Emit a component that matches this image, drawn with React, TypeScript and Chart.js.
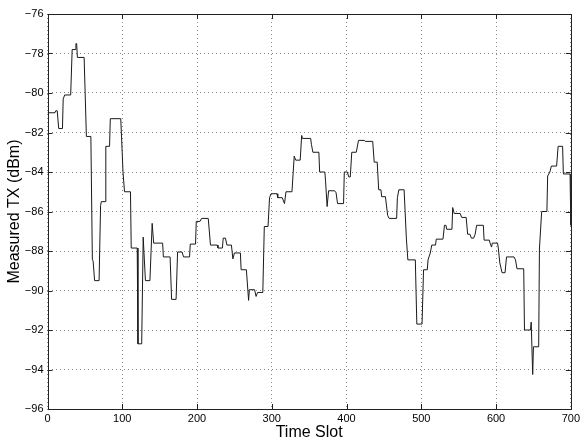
import React, { useEffect, useRef } from "react";
import { Chart, registerables } from "chart.js";

Chart.register(...registerables);

// Time slot (x) and measured TX power in dBm (y) at the trace's vertices
const slots = [
  0, 10, 11, 13, 15, 20, 21, 23, 31, 33, 37, 38, 39, 40, 49, 52, 58, 60, 61, 63, 69, 71, 72, 77, 78, 83, 84, 98,
  101, 103, 111, 112, 120, 121, 126, 128, 129, 131, 137, 140, 142, 154, 155, 163, 164, 166, 172, 174, 180, 182,
  190, 191, 198, 199, 204, 206, 215, 218, 227, 228, 234, 235, 238, 240, 246, 248, 250, 258, 259, 266, 269, 270,
  277, 279, 281, 288, 290, 295, 297, 299, 307, 308, 314, 317, 319, 327, 330, 332, 338, 340, 341, 352, 353, 355,
  363, 364, 371, 372, 374, 376, 384, 386, 388, 396, 397, 401, 403, 405, 407, 413, 416, 424, 425, 435, 437, 441,
  443, 446, 447, 452, 455, 457, 467, 468, 470, 477, 480, 482, 492, 494, 501, 503, 508, 509, 512, 514, 519, 520,
  529, 531, 533, 534, 541, 542, 544, 552, 554, 560, 562, 565, 567, 570, 572, 574, 583, 584, 591, 592, 594, 595,
  602, 603, 605, 608, 612, 614, 624, 626, 628, 637, 638, 646, 647, 649, 650, 657, 658, 661, 668, 669, 672, 674,
  681, 683, 689, 690, 699, 700,
];
const txDbm = [
  -81.0, -81.0, -80.9, -80.9, -81.8, -81.8, -80.3, -80.1, -80.1, -77.8, -77.8, -77.5, -77.5, -78.2, -78.2, -82.2,
  -82.2, -88.45, -88.5, -89.5, -89.5, -85.7, -85.5, -85.5, -82.7, -82.7, -81.3, -81.3, -84.0, -85.0, -85.0, -87.85,
  -87.85, -92.7, -92.7, -87.3, -87.3, -89.5, -89.5, -86.6, -87.6, -87.6, -88.3, -88.3, -88.3, -90.45, -90.45,
  -88.05, -88.05, -88.3, -88.3, -87.65, -87.65, -86.5, -86.5, -86.35, -86.35, -87.7, -87.7, -87.85, -87.85,
  -87.35, -87.35, -87.7, -87.7, -88.4, -88.1, -88.1, -88.95, -88.95, -90.5, -89.96, -89.96, -90.3, -90.1, -90.1,
  -86.76, -86.76, -85.3, -85.1, -85.1, -85.3, -85.3, -85.6, -85.0, -85.0, -83.2, -83.4, -83.4, -82.15, -82.3,
  -82.3, -82.6, -83.0, -83.0, -84.0, -84.0, -84.5, -85.75, -84.95, -84.95, -85.05, -85.6, -85.6, -84.0, -84.0,
  -84.25, -84.25, -83.0, -83.0, -82.4, -82.4, -82.45, -82.45, -83.5, -83.5, -84.9, -84.9, -85.25, -85.25, -86.2,
  -86.35, -86.35, -85.3, -84.9, -84.9, -87.35, -88.45, -88.45, -91.7, -91.7, -88.95, -88.95, -88.45, -88.1,
  -87.7, -87.7, -87.4, -87.4, -86.7, -86.7, -86.9, -86.9, -85.8, -86.1, -86.1, -86.3, -86.3, -87.15, -87.15,
  -87.35, -87.35, -87.15, -86.7, -86.7, -87.45, -87.45, -87.6, -87.8, -87.6, -87.6, -87.85, -88.6, -89.1, -89.1,
  -88.3, -88.3, -88.45, -88.9, -88.9, -92.0, -92.0, -91.6, -94.25, -92.85, -92.85, -87.9, -86.0, -86.0, -84.2,
  -84.0, -83.7, -83.7, -82.7, -82.7, -84.1, -84.1, -86.7,
];

const xTitle = "Time Slot";
const yTitle = "Measured TX (dBm)";

const FONT = "'Liberation Sans', Arial, Helvetica, sans-serif";

const boxPlugin = {
  id: "matlabBox",
  afterDraw(chart: any) {
    const { ctx, chartArea: a, scales } = chart;
    ctx.save();
    ctx.strokeStyle = "#222";
    ctx.lineWidth = 1;
    ctx.strokeRect(Math.round(a.left) + 0.5, Math.round(a.top) + 0.5, Math.round(a.right - a.left), Math.round(a.bottom - a.top));
    const len = 5;
    ctx.beginPath();
    scales.x.ticks.forEach((t: any) => {
      const px = Math.round(scales.x.getPixelForValue(t.value)) + 0.5;
      ctx.moveTo(px, a.bottom);
      ctx.lineTo(px, a.bottom - len);
      ctx.moveTo(px, a.top);
      ctx.lineTo(px, a.top + len);
    });
    scales.y.ticks.forEach((t: any) => {
      const py = Math.round(scales.y.getPixelForValue(t.value)) + 0.5;
      ctx.moveTo(a.left, py);
      ctx.lineTo(a.left + len, py);
      ctx.moveTo(a.right, py);
      ctx.lineTo(a.right - len, py);
    });
    ctx.stroke();
    ctx.restore();
  },
};

export default function App() {
  const ref = useRef<HTMLCanvasElement>(null);
  useEffect(() => {
    document.body.style.margin = "0";
    const canvas = ref.current!;
    const points = slots.map((s, i) => ({ x: s, y: txDbm[i] }));
    const chart = new Chart(canvas, {
      type: "line",
      data: {
        datasets: [
          {
            data: points,
            borderColor: "#1a1a1a",
            borderWidth: 1,
            pointRadius: 0,
            tension: 0,
            fill: false,
          },
        ],
      },
      options: {
        animation: false,
        responsive: false,
        maintainAspectRatio: false,
        layout: { autoPadding: false, padding: { top: 14, right: 8, left: 0, bottom: 0 } } as any,
        plugins: { legend: { display: false }, tooltip: { enabled: false } },
        scales: {
          x: {
            type: "linear",
            min: 0,
            max: 700,
            afterFit: (s: any) => {
              s.height = 33;
            },
            ticks: {
              stepSize: 100,
              color: "#000",
              font: { family: FONT, size: 11 },
              padding: 3,
              maxRotation: 0,
            },
            grid: {
              color: "#888",
              drawTicks: false,
              tickLength: 0,
            },
            border: { display: false, dash: [1, 3] } as any,
            title: {
              display: true,
              text: xTitle,
              color: "#000",
              font: { family: FONT, size: 16 },
              padding: { top: 0, bottom: 0 },
            },
          },
          y: {
            type: "linear",
            min: -96,
            max: -76,
            afterFit: (s: any) => {
              s.width = 47.5;
            },
            ticks: {
              stepSize: 2,
              color: "#000",
              font: { family: FONT, size: 11 },
              padding: 4,
              callback: (v: any) => String(v).replace("-", "\u2212"),
            },
            grid: {
              color: "#888",
              drawTicks: false,
              tickLength: 0,
            },
            border: { display: false, dash: [1, 3] } as any,
            title: {
              display: true,
              text: yTitle,
              color: "#000",
              font: { family: FONT, size: 16 },
              padding: { top: 5, bottom: 0 },
            },
          },
        },
      },
      plugins: [boxPlugin],
    });
    return () => chart.destroy();
  }, []);
  return (
    <div style={{ width: 583, height: 442 }}>
      <canvas ref={ref} width={583} height={442} style={{ display: "block" }} />
    </div>
  );
}
